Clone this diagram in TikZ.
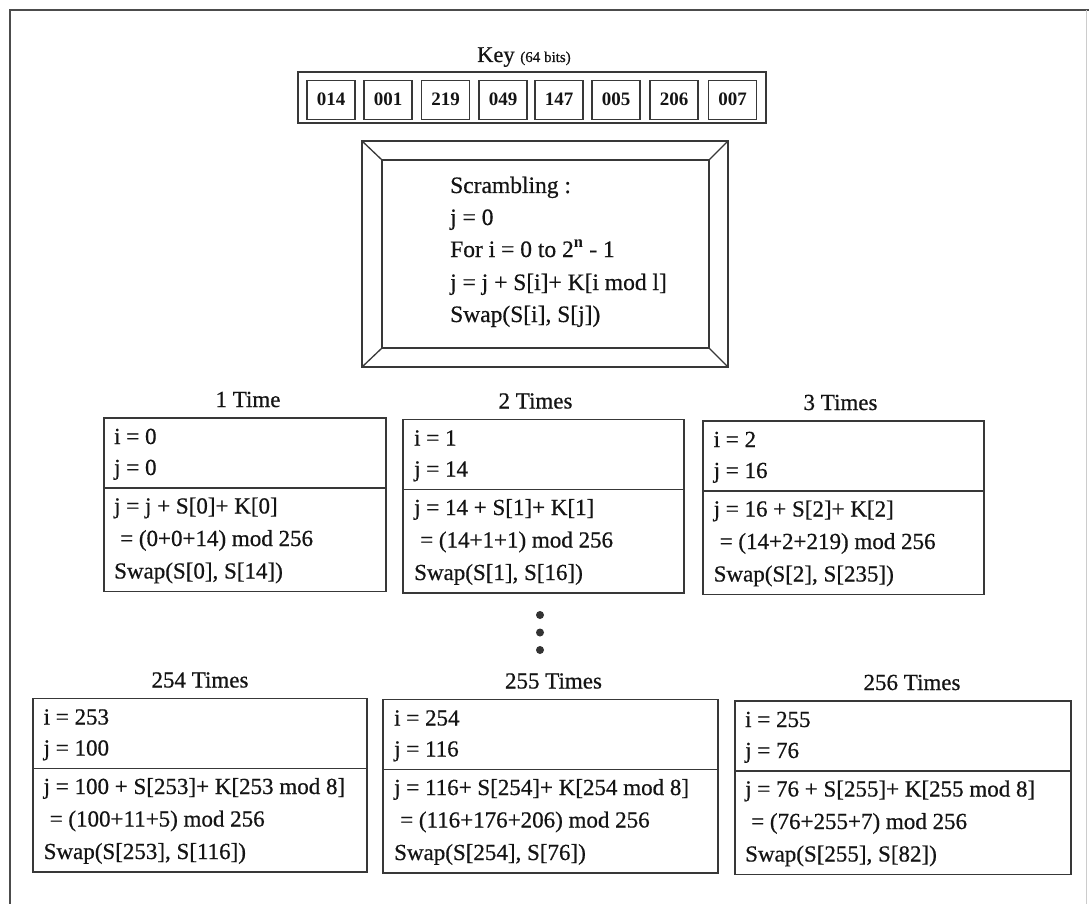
\documentclass[tikz,border=0pt]{standalone}
\usepackage{fontspec}
\setmainfont{Liberation Serif}[UprightFeatures={FakeBold=0.6}]
\begin{document}
\begin{tikzpicture}[x=1pt,y=-1pt]
\tikzset{
 lin/.style={draw=black!78, line width=1.3pt},
 stepbox/.style={lin, rectangle, inner sep=0pt, outer sep=0pt, anchor=north west, minimum height=173.5pt},
 framebox/.style={lin, rectangle, inner sep=0pt, outer sep=0pt, anchor=north west},
 txt/.style={anchor=base west, inner sep=0pt, font=\fontsize{23}{28}\selectfont, text=black!92},
 ttl/.style={anchor=base, inner sep=0pt, font=\fontsize{23}{28}\selectfont, text=black!92},
 keycell/.style={lin, rectangle, inner sep=0pt, outer sep=0pt, minimum width=48pt, minimum height=39pt, font=\fontsize{19}{22}\selectfont\bfseries, text=black!92},
 dotm/.style={circle, fill=black!80, inner sep=0pt, minimum size=8pt},
}
\useasboundingbox (0,0) rectangle (1089,904);
\fill[white] (0,0) rectangle (1089,904);
% page frame
\coordinate (fbl) at (10,904);
\coordinate (ftl) at (10,10);
\coordinate (ftr) at (1089,10);
\coordinate (frt) at (1086,10);
\coordinate (frb) at (1086,904);
\draw[draw=black!70, line width=1.2pt] (fbl) -- (ftl) -- (ftr);
\draw[draw=black!20, line width=1pt] (frt) -- (frb);

% key
\node[anchor=base west, inner sep=0pt, font=\fontsize{22.5}{26}\selectfont, text=black!92] (keyt) at (477,62) {Key {\fontsize{15}{18}\selectfont(64 bits)}};
\node[framebox, minimum width=468pt, minimum height=51pt] (keyrow) at (298,72) {};
\node[keycell] (k1) at (331,99.7) {014};
\node[keycell] (k2) at (388,99.7) {001};
\node[keycell] (k3) at (445.5,99.7) {219};
\node[keycell] (k4) at (503,99.7) {049};
\node[keycell] (k5) at (559,99.7) {147};
\node[keycell] (k6) at (616,99.7) {005};
\node[keycell] (k7) at (674,99.7) {206};
\node[keycell] (k8) at (732.5,99.7) {007};

% scrambling frame
\node[framebox, minimum width=366pt, minimum height=226pt] (so) at (362,141) {};
\node[framebox, minimum width=327pt, minimum height=188pt] (si) at (382,160) {};
\draw[lin] (so.north west) -- (si.north west);
\draw[lin] (so.north east) -- (si.north east);
\draw[lin] (so.south west) -- (si.south west);
\draw[lin] (so.south east) -- (si.south east);
\node[txt, font=\fontsize{23.5}{28}\selectfont] (s1) at (450,193) {Scrambling :};
\node[txt, font=\fontsize{23.5}{28}\selectfont] (s2) at (450,225) {j = 0};
\node[txt, font=\fontsize{23.5}{28}\selectfont] (s3) at (450,257) {For i = 0 to 2\textsuperscript{\bfseries n} - 1};
\node[txt, font=\fontsize{23.5}{28}\selectfont] (s4) at (450,290) {j = j + S[i]+ K[i mod l]};
\node[txt, font=\fontsize{23.5}{28}\selectfont] (s5) at (450,322) {Swap(S[i], S[j])};

% box 1
\node[stepbox, minimum width=282pt] (b1) at (104,418) {};
\draw[lin] ([yshift=-70pt]b1.north west) -- ([yshift=-70pt]b1.north east);
\node[ttl] (b1t) at ([xshift=3pt,yshift=11pt]b1.north) {1 Time};
\node[txt] (b1a) at ([xshift=10pt,yshift=-26pt]b1.north west) {i = 0};
\node[txt] (b1b) at ([xshift=10pt,yshift=-57pt]b1.north west) {j = 0};
\node[txt] (b1c) at ([xshift=10pt,yshift=-95.5pt]b1.north west) {j = j + S[0]+ K[0]};
\node[txt] (b1d) at ([xshift=16pt,yshift=-128pt]b1.north west) {= (0+0+14) mod 256};
\node[txt] (b1e) at ([xshift=10pt,yshift=-160.5pt]b1.north west) {Swap(S[0], S[14])};

% box 2
\node[stepbox, minimum width=281pt] (b2) at (403,419.5) {};
\draw[lin] ([yshift=-70pt]b2.north west) -- ([yshift=-70pt]b2.north east);
\node[ttl] (b2t) at ([xshift=-8pt,yshift=11pt]b2.north) {2 Times};
\node[txt] (b2a) at ([xshift=11pt,yshift=-26pt]b2.north west) {i = 1};
\node[txt] (b2b) at ([xshift=11pt,yshift=-57pt]b2.north west) {j = 14};
\node[txt] (b2c) at ([xshift=11pt,yshift=-95.5pt]b2.north west) {j = 14 + S[1]+ K[1]};
\node[txt] (b2d) at ([xshift=17pt,yshift=-128pt]b2.north west) {= (14+1+1) mod 256};
\node[txt] (b2e) at ([xshift=11pt,yshift=-160.5pt]b2.north west) {Swap(S[1], S[16])};

% box 3
\node[stepbox, minimum width=281pt] (b3) at (703,421) {};
\draw[lin] ([yshift=-70pt]b3.north west) -- ([yshift=-70pt]b3.north east);
\node[ttl] (b3t) at ([xshift=-3pt,yshift=11pt]b3.north) {3 Times};
\node[txt] (b3a) at ([xshift=10.5pt,yshift=-26pt]b3.north west) {i = 2};
\node[txt] (b3b) at ([xshift=10.5pt,yshift=-57pt]b3.north west) {j = 16};
\node[txt] (b3c) at ([xshift=10.5pt,yshift=-95.5pt]b3.north west) {j = 16 + S[2]+ K[2]};
\node[txt] (b3d) at ([xshift=16.5pt,yshift=-128pt]b3.north west) {= (14+2+219) mod 256};
\node[txt] (b3e) at ([xshift=10.5pt,yshift=-160.5pt]b3.north west) {Swap(S[2], S[235])};

% dots
\node[dotm] (d1) at (540,615) {};
\node[dotm] (d2) at (540,632.5) {};
\node[dotm] (d3) at (540,650) {};

% box 4
\node[stepbox, minimum width=334pt] (b4) at (33,698.5) {};
\draw[lin] ([yshift=-70pt]b4.north west) -- ([yshift=-70pt]b4.north east);
\node[ttl] (b4t) at ([xshift=0pt,yshift=11pt]b4.north) {254 Times};
\node[txt] (b4a) at ([xshift=10.5pt,yshift=-26pt]b4.north west) {i = 253};
\node[txt] (b4b) at ([xshift=10.5pt,yshift=-57pt]b4.north west) {j = 100};
\node[txt] (b4c) at ([xshift=10.5pt,yshift=-95.5pt]b4.north west) {j = 100 + S[253]+ K[253 mod 8]};
\node[txt] (b4d) at ([xshift=16.5pt,yshift=-128pt]b4.north west) {= (100+11+5) mod 256};
\node[txt] (b4e) at ([xshift=10.5pt,yshift=-160.5pt]b4.north west) {Swap(S[253], S[116])};

% box 5
\node[stepbox, minimum width=335pt] (b5) at (383,699.5) {};
\draw[lin] ([yshift=-70pt]b5.north west) -- ([yshift=-70pt]b5.north east);
\node[ttl] (b5t) at ([xshift=3pt,yshift=11pt]b5.north) {255 Times};
\node[txt] (b5a) at ([xshift=11pt,yshift=-26pt]b5.north west) {i = 254};
\node[txt] (b5b) at ([xshift=11pt,yshift=-57pt]b5.north west) {j = 116};
\node[txt] (b5c) at ([xshift=11pt,yshift=-95.5pt]b5.north west) {j = 116+ S[254]+ K[254 mod 8]};
\node[txt] (b5d) at ([xshift=17pt,yshift=-128pt]b5.north west) {= (116+176+206) mod 256};
\node[txt] (b5e) at ([xshift=11pt,yshift=-160.5pt]b5.north west) {Swap(S[254], S[76])};

% box 6
\node[stepbox, minimum width=336pt] (b6) at (735,701) {};
\draw[lin] ([yshift=-70pt]b6.north west) -- ([yshift=-70pt]b6.north east);
\node[ttl] (b6t) at ([xshift=9pt,yshift=11pt]b6.north) {256 Times};
\node[txt] (b6a) at ([xshift=10pt,yshift=-26pt]b6.north west) {i = 255};
\node[txt] (b6b) at ([xshift=10pt,yshift=-57pt]b6.north west) {j = 76};
\node[txt] (b6c) at ([xshift=10pt,yshift=-95.5pt]b6.north west) {j = 76 + S[255]+ K[255 mod 8]};
\node[txt] (b6d) at ([xshift=16pt,yshift=-128pt]b6.north west) {= (76+255+7) mod 256};
\node[txt] (b6e) at ([xshift=10pt,yshift=-160.5pt]b6.north west) {Swap(S[255], S[82])};
\end{tikzpicture}
\end{document}
